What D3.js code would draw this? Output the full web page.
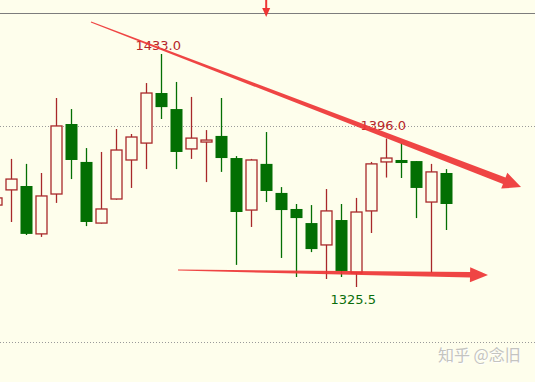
<!DOCTYPE html>
<html>
<head>
<meta charset="utf-8">
<script src="https://cdn.jsdelivr.net/npm/d3@7"></script>
<style>
  body { margin: 0; background: #fefeec; }
  svg { display: block; }
</style>
</head>
<body>
<div id="chart"></div>
<script>
// candle data, left to right (first one is cut off by the left edge)
var opens  = [1363.3, 1370.3, 1372.1, 1350.0, 1368.4, 1400.7, 1383.2, 1355.0, 1366.1, 1384.1,
              1391.9, 1415.0, 1407.6, 1389.2, 1392.4, 1395.2, 1385.0, 1361.0, 1382.3, 1368.9,
              1361.5, 1355.0, 1344.9, 1356.4, 1332.0, 1360.6, 1383.2, 1384.1, 1383.6, 1364.7, 1378.1];
var highs  = [1370.3, 1384.6, 1382.3, 1378.1, 1412.7, 1407.6, 1389.6, 1387.8, 1398.4, 1396.1,
              1419.6, 1433.0, 1420.1, 1413.2, 1397.9, 1412.7, 1385.9, 1384.6, 1397.0, 1371.6,
              1363.8, 1363.3, 1370.7, 1363.8, 1366.6, 1383.2, 1394.0, 1391.9, 1383.6, 1382.3, 1379.9];
var lows   = [1358.7, 1355.5, 1349.5, 1348.6, 1364.3, 1375.3, 1353.6, 1354.8, 1365.8, 1371.2,
              1379.9, 1403.0, 1379.9, 1384.6, 1373.9, 1378.6, 1335.7, 1353.2, 1364.7, 1338.9,
              1330.1, 1341.6, 1329.2, 1330.1, 1325.5, 1350.4, 1376.0, 1375.8, 1357.3, 1332.0, 1351.8];
var closes = [1366.6, 1375.3, 1350.0, 1367.5, 1399.8, 1384.1, 1355.5, 1361.5, 1388.7, 1394.7,
              1415.0, 1408.5, 1387.8, 1394.2, 1393.3, 1385.0, 1360.1, 1384.1, 1369.8, 1361.0,
              1357.3, 1343.0, 1360.6, 1332.9, 1360.1, 1382.3, 1385.0, 1382.7, 1371.2, 1378.6, 1363.8];

// price labels: candle index, value, placement
var labelIdx  = [11, 26, 24];
var labelVals = [1433.0, 1396.0, 1325.5];
var labelPos  = ["above", "above", "below"];

var gridPrices = [1400, 1300];

// drawn trend arrows, [index, price] start and tip
var arrowFalling = [[6.32, 1447.8], [34.99, 1371.6]];
var arrowSupport = [[12.12, 1333.3], [32.79, 1331.0]];
var markerIdx = 18;

var width = 535, height = 382,
    upColor = "#a8282a", downColor = "#036f03", arrowColor = "#ee3535";

var svg = d3.select("#chart").append("svg")
    .attr("width", width)
    .attr("height", height);

svg.append("rect").attr("width", width).attr("height", height).attr("fill", "#fefeec");

var x = d3.scaleLinear().domain([0, 1]).range([-3.8, 11.2]);
var y = d3.scaleLinear().domain([1325.5, 1433]).range([287, 54]);

// top frame line
svg.append("line")
    .attr("x1", 0).attr("x2", width)
    .attr("y1", 13.5).attr("y2", 13.5)
    .attr("stroke", "#7d7d7d").attr("stroke-width", 1);

// dotted price grid
svg.selectAll(".grid")
    .data(gridPrices)
    .enter().append("line")
    .attr("class", "grid")
    .attr("x1", 0).attr("x2", width)
    .attr("y1", function (d) { return Math.round(y(d)) + 0.5; })
    .attr("y2", function (d) { return Math.round(y(d)) + 0.5; })
    .attr("stroke", "#9a9a9a")
    .attr("stroke-dasharray", "1,2");

var candles = opens.map(function (o, i) {
    return { i: i, o: o, h: highs[i], l: lows[i], c: closes[i], up: closes[i] >= o };
});

var g = svg.append("g");

g.selectAll(".wick")
    .data(candles)
    .enter().append("line")
    .attr("class", "wick")
    .attr("x1", function (d) { return Math.round(x(d.i)) + 0.5; })
    .attr("x2", function (d) { return Math.round(x(d.i)) + 0.5; })
    .attr("y1", function (d) { return y(d.h); })
    .attr("y2", function (d) { return y(d.l); })
    .attr("stroke", function (d) { return d.up ? upColor : downColor; })
    .attr("stroke-width", 1.3);

g.selectAll(".body")
    .data(candles)
    .enter().append("rect")
    .attr("class", "body")
    .attr("x", function (d) { return Math.round(x(d.i)) + 0.5 - (d.up ? 5.5 : 6); })
    .attr("width", function (d) { return d.up ? 11 : 12; })
    .attr("y", function (d) { return y(Math.max(d.o, d.c)); })
    .attr("height", function (d) { return Math.max(2, Math.abs(y(d.o) - y(d.c))); })
    .attr("fill", function (d) { return d.up ? "#fefeec" : downColor; })
    .attr("stroke", function (d) { return d.up ? upColor : "none"; })
    .attr("stroke-width", 1.3);

// price labels
svg.selectAll(".plabel")
    .data(labelIdx)
    .enter().append("text")
    .attr("class", "plabel")
    .attr("x", function (d) { return x(d) - 3; })
    .attr("y", function (d, i) {
        return labelPos[i] === "above" ? y(labelVals[i]) - 4 : y(labelVals[i]) + 17;
    })
    .attr("text-anchor", "middle")
    .attr("font-family", "DejaVu Sans, sans-serif")
    .attr("font-size", 13)
    .attr("fill", function (d, i) { return labelPos[i] === "above" ? "#b5272a" : "#0b6e0b"; })
    .text(function (d, i) { return d3.format(".1f")(labelVals[i]); });

// tapered arrow polygon from start to tip
function arrowPath(pts, wEnd, headW, headL) {
    var x0 = x(pts[0][0]), y0 = y(pts[0][1]), x1 = x(pts[1][0]), y1 = y(pts[1][1]);
    var dx = x1 - x0, dy = y1 - y0, len = Math.sqrt(dx * dx + dy * dy);
    var ux = dx / len, uy = dy / len, nx = -uy, ny = ux;
    var bx = x1 - ux * headL, by = y1 - uy * headL;
    var p = [
        [x0 + nx * 0.5, y0 + ny * 0.5],
        [bx + nx * wEnd / 2, by + ny * wEnd / 2],
        [bx + nx * headW / 2, by + ny * headW / 2],
        [x1, y1],
        [bx - nx * headW / 2, by - ny * headW / 2],
        [bx - nx * wEnd / 2, by - ny * wEnd / 2],
        [x0 - nx * 0.5, y0 - ny * 0.5]
    ];
    return "M" + p.map(function (q) { return q[0].toFixed(1) + "," + q[1].toFixed(1); }).join("L") + "Z";
}

svg.append("path")
    .attr("d", arrowPath(arrowFalling, 7, 17, 18))
    .attr("fill", arrowColor)
    .attr("opacity", 0.92);

svg.append("path")
    .attr("d", arrowPath(arrowSupport, 5.5, 15, 18))
    .attr("fill", arrowColor)
    .attr("opacity", 0.92);

// small marker arrow on the top frame
var mx = x(markerIdx);
svg.append("line")
    .attr("x1", mx).attr("x2", mx).attr("y1", 0).attr("y2", 10)
    .attr("stroke", arrowColor).attr("stroke-width", 2);
svg.append("path")
    .attr("d", "M" + (mx - 4) + ",8L" + (mx + 4) + ",8L" + mx + ",17Z")
    .attr("fill", arrowColor);

// watermark
var wm = svg.append("g")
    .attr("font-family", "Noto Sans CJK SC, sans-serif")
    .attr("font-size", 16);
wm.append("text").attr("x", 439).attr("y", 362).attr("fill", "#ffffff").text("知乎 @念旧");
wm.append("text").attr("x", 438).attr("y", 361).attr("fill", "#c4c4c0").text("知乎 @念旧");
</script>
</body>
</html>
